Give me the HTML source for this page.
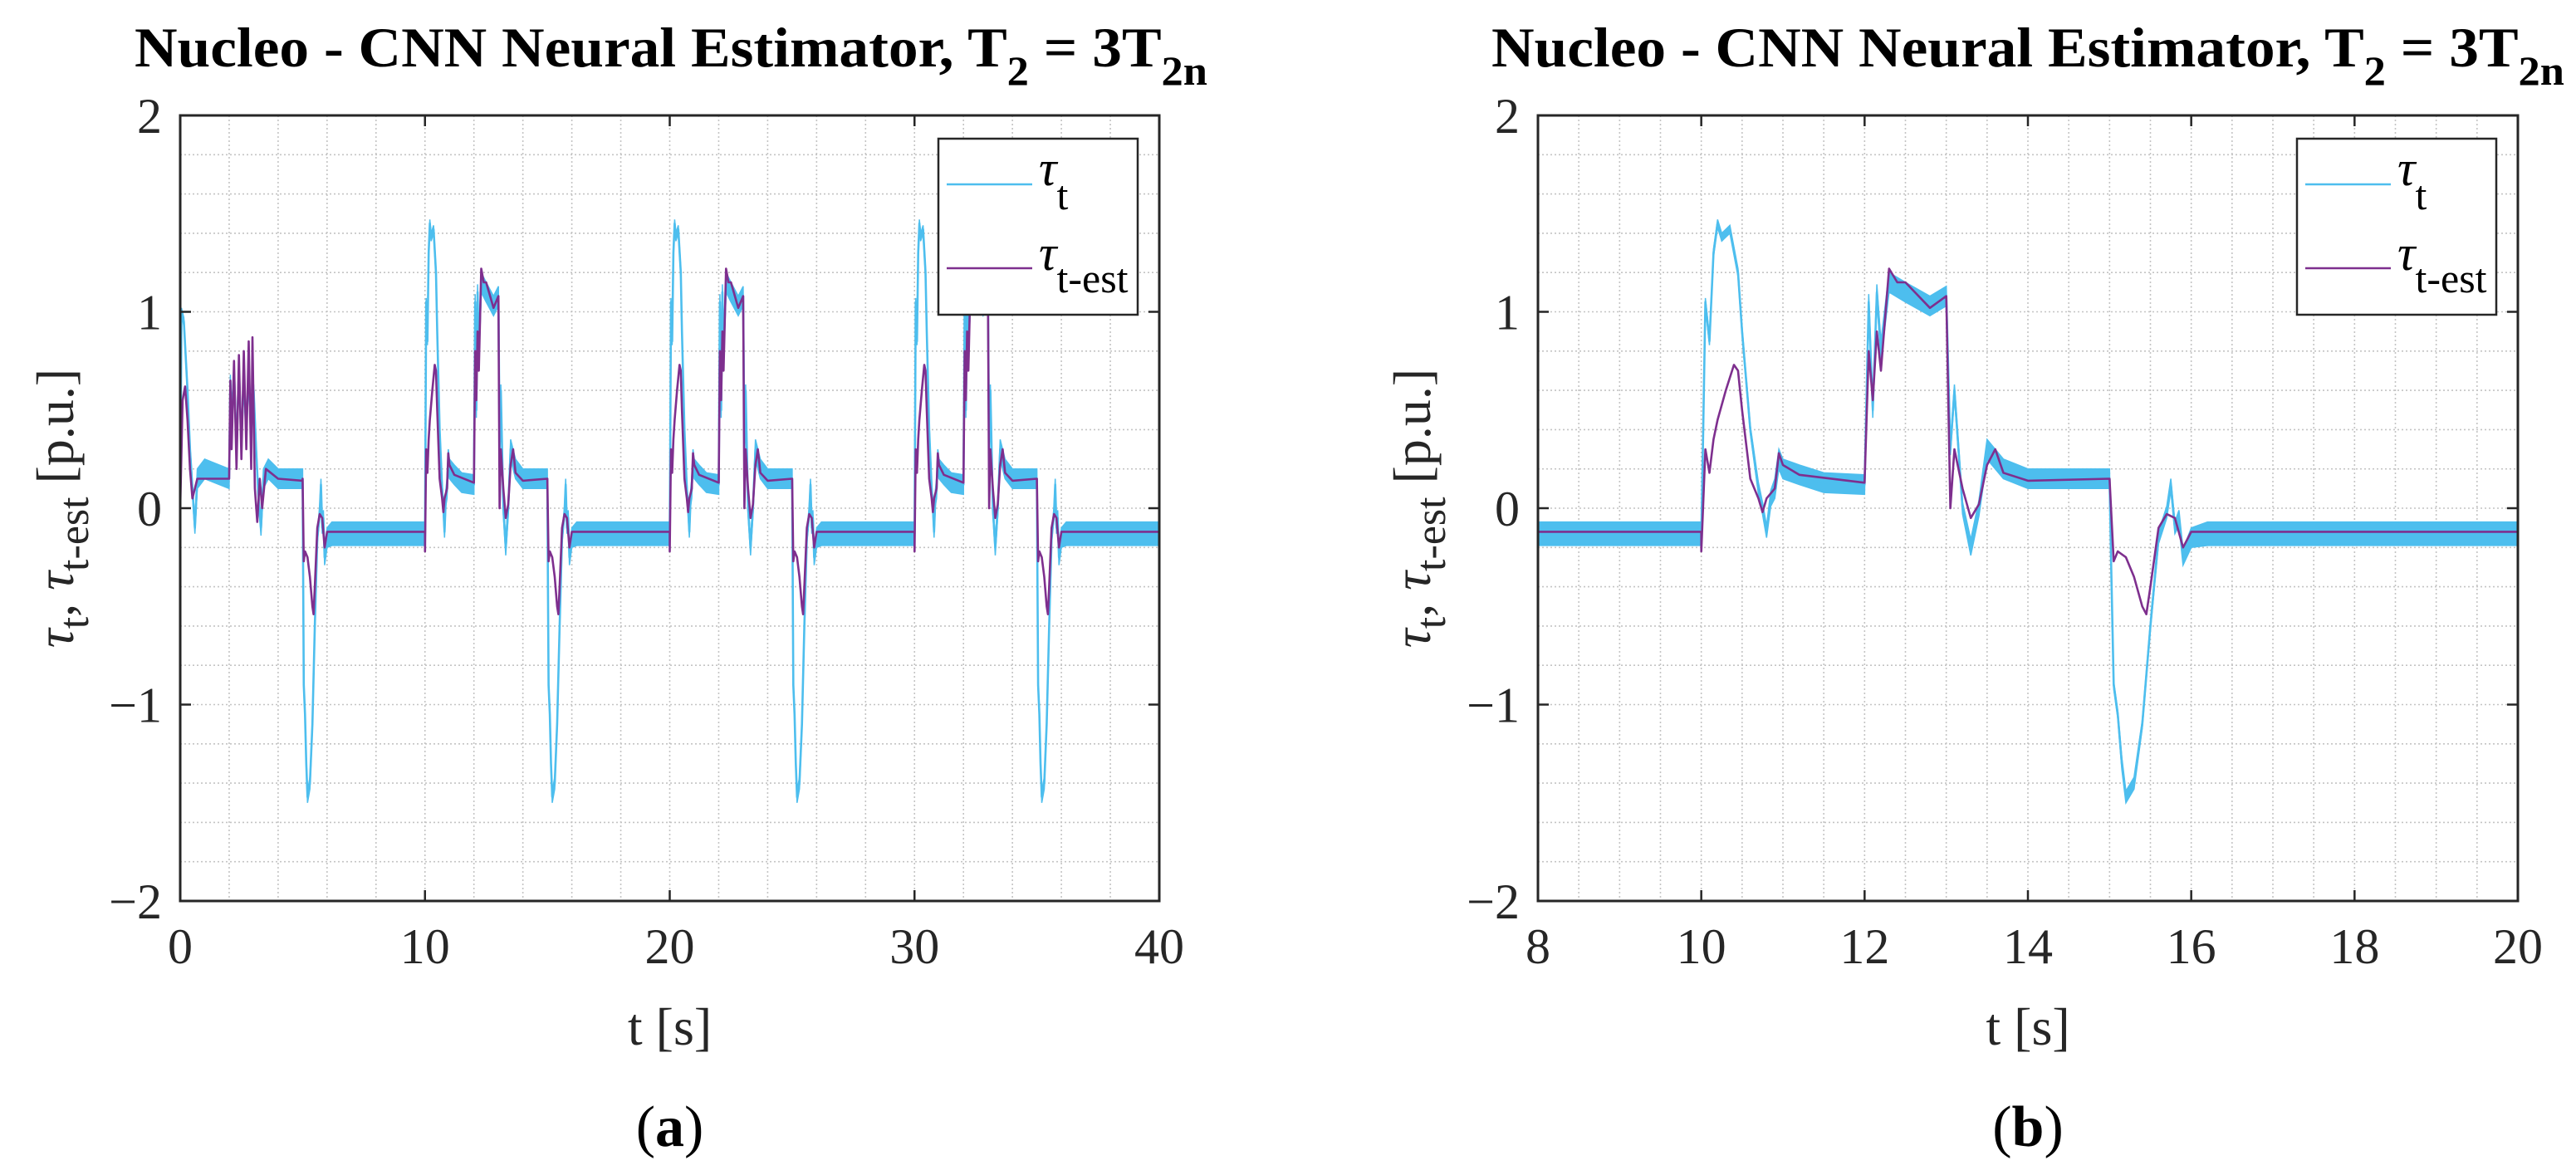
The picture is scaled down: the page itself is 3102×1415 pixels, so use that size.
<!DOCTYPE html>
<html><head><meta charset="utf-8"><style>
html,body{margin:0;padding:0;background:#fff;}
svg{display:block;font-family:"Liberation Serif",serif;}
</style></head><body>
<svg id="fig" xmlns="http://www.w3.org/2000/svg" width="3102" height="1415" viewBox="0 0 3102 1415"></svg>
<script>
// ---- data: one 10 s period (t from 10 to 20) ----
const periodT=[10.0,10.02,10.05,10.1,10.15,10.2,10.25,10.3,10.35,10.45,10.5,10.6,10.7,10.75,10.8,10.85,10.9,10.95,11.0,11.2,11.5,12.0,12.02,12.05,12.1,12.15,12.2,12.3,12.5,12.8,13.0,13.05,13.1,13.2,13.3,13.4,13.5,13.7,14.0,15.0,15.02,15.05,15.1,15.15,15.2,15.3,15.4,15.5,15.6,15.7,15.75,15.8,15.85,15.9,16.0,16.2,20.0];
const periodCyan=[-0.13,0.3,1.05,0.85,1.3,1.45,1.38,1.4,1.42,1.2,0.9,0.4,0.1,0.0,-0.12,0.05,0.1,0.25,0.2,0.17,0.13,0.12,0.5,1.05,0.5,1.1,0.8,1.15,1.1,1.03,1.08,0.3,0.6,0.0,-0.2,0.0,0.3,0.2,0.15,0.15,-0.3,-0.9,-1.05,-1.3,-1.47,-1.4,-1.1,-0.6,-0.15,-0.02,0.12,-0.1,-0.05,-0.25,-0.15,-0.13,-0.13];
const periodNoise=[0.05,0.02,0.02,0.02,0.02,0.02,0.02,0.02,0.02,0.02,0.02,0.02,0.03,0.03,0.03,0.04,0.05,0.05,0.05,0.05,0.05,0.05,0.03,0.04,0.04,0.04,0.05,0.05,0.05,0.05,0.05,0.03,0.03,0.03,0.04,0.04,0.05,0.05,0.05,0.05,0.02,0.02,0.02,0.03,0.03,0.03,0.02,0.02,0.03,0.03,0.03,0.03,0.04,0.04,0.05,0.06,0.06];
const periodTP=[10.0,10.05,10.1,10.15,10.2,10.3,10.4,10.45,10.5,10.6,10.7,10.75,10.8,10.9,10.95,11.0,11.2,12.0,12.05,12.1,12.15,12.2,12.3,12.4,12.5,12.8,13.0,13.05,13.1,13.2,13.3,13.4,13.5,13.6,13.7,14.0,15.0,15.05,15.1,15.2,15.3,15.4,15.45,15.5,15.6,15.7,15.8,15.9,16.0,20.0];
const periodPurple=[-0.22,0.3,0.18,0.35,0.45,0.6,0.73,0.7,0.5,0.15,0.05,-0.02,0.05,0.1,0.28,0.22,0.17,0.13,0.8,0.55,0.9,0.7,1.22,1.15,1.15,1.02,1.08,0.0,0.3,0.1,-0.05,0.02,0.22,0.3,0.18,0.14,0.15,-0.27,-0.22,-0.25,-0.35,-0.5,-0.54,-0.4,-0.1,-0.03,-0.05,-0.2,-0.12,-0.12];
// ---- data: start-up (t from 0 to 5) ----
const startT=[0,0.05,0.15,0.3,0.4,0.5,0.6,0.7,1.0,2.0,2.05,2.1,2.2,2.3,2.4,2.5,2.6,2.7,2.8,2.9,3.0,3.1,3.2,3.3,3.4,3.6,4.0,5.0];
const startCyan=[0,1.0,0.95,0.6,0.3,0.1,-0.1,0.15,0.2,0.15,0.65,0.45,0.7,0.3,0.7,0.35,0.65,0.4,0.7,0.4,0.6,0.3,0.05,-0.1,0.15,0.2,0.15,0.15];
const startNoise=[0.02,0.02,0.02,0.02,0.02,0.03,0.03,0.05,0.05,0.05,0.03,0.03,0.03,0.03,0.03,0.03,0.03,0.03,0.03,0.03,0.03,0.03,0.03,0.04,0.05,0.05,0.05,0.05];
const startTP=[0,0.1,0.2,0.3,0.4,0.5,0.7,2.0,2.05,2.1,2.2,2.3,2.4,2.5,2.6,2.7,2.8,2.9,2.95,3.05,3.15,3.25,3.35,3.5,4.0,5.0];
const startPurple=[0,0.55,0.62,0.45,0.2,0.05,0.15,0.15,0.65,0.3,0.75,0.2,0.78,0.25,0.8,0.3,0.85,0.2,0.87,0.1,-0.07,0.15,0.0,0.2,0.15,0.14];
const yTicks=[-2,-1,0,1,2];
const yTickLabels=["\u22122","\u22121","0","1","2"];
const xTicksA=[0,10,20,30,40];
const xTicksB=[8,10,12,14,16,18,20];

const NS="http://www.w3.org/2000/svg";
const svg=document.getElementById('fig');
function mk(tag,attrs,parent){const e=document.createElementNS(NS,tag);for(const k in attrs)e.setAttribute(k,attrs[k]);(parent||svg).appendChild(e);return e;}

function buildSeries(tA,vA,nA,sT,sV,sN,shifts,xmin,xmax,useStart){
  const pts=[];
  if(useStart){for(let i=0;i<sT.length;i++)pts.push([sT[i],sV[i],sN?sN[i]:0]);}
  shifts.forEach(s=>{for(let i=0;i<tA.length;i++){const t=tA[i]+s;if(useStart&&t<5)continue;pts.push([t,vA[i],nA?nA[i]:0]);}});
  pts.sort((a,b)=>a[0]-b[0]);
  return pts.filter(p=>p[0]>=xmin-5&&p[0]<=xmax+5);
}

function drawPlot(cfg){
  const {L,R,T,B,xmin,xmax,xTicks,xMinorStep,name,useStart,shifts,titleX,titleLen,ylabX,letter}=cfg;
  const g=mk('g',{});
  
  
  const X=t=>L+(t-xmin)/(xmax-xmin)*(R-L);
  const Y=v=>T+(2-v)/4*(B-T);
  const clipId='clip-'+name;
  const cp=mk('clipPath',{id:clipId},g);mk('rect',{x:L,y:T,width:R-L,height:B-T},cp);
  const grid=mk('g',{stroke:'#c4c4c4','stroke-width':1.6,'stroke-dasharray':'2 3'},g);
  
  
  for(let v=-2;v<=2.0001;v+=0.2){const y=Y(v);mk('line',{x1:L,x2:R,y1:y,y2:y},grid);}
  for(let t=xmin;t<=xmax+1e-6;t+=xMinorStep){const x=X(t);mk('line',{x1:x,x2:x,y1:T,y2:B},grid);}
  const sg=mk('g',{'clip-path':'url(#'+clipId+')'},g);
  const cy=buildSeries(periodT,periodCyan,periodNoise,startT,startCyan,startNoise,shifts,xmin,xmax,useStart);
  let up=cy.map(p=>X(p[0]).toFixed(1)+','+Y(p[1]+p[2]).toFixed(1));
  let lo=cy.slice().reverse().map(p=>X(p[0]).toFixed(1)+','+Y(p[1]-p[2]).toFixed(1));
  const band=mk('polygon',{points:up.concat(lo).join(' '),fill:'#4DBEEE',stroke:'#4DBEEE','stroke-width':1.5},sg);
  
  
  const cl=mk('polyline',{points:cy.map(p=>X(p[0]).toFixed(1)+','+Y(p[1]).toFixed(1)).join(' '),fill:'none',stroke:'#4DBEEE','stroke-width':2.6,'stroke-linejoin':'round'},sg);
  
  
  const pp=buildSeries(periodTP,periodPurple,null,startTP,startPurple,null,shifts,xmin,xmax,useStart);
  const pl=mk('polyline',{points:pp.map(p=>X(p[0]).toFixed(1)+','+Y(p[1]).toFixed(1)).join(' '),fill:'none',stroke:'#7E2F8E','stroke-width':2.6,'stroke-linejoin':'round'},sg);
  
  
  const ax=mk('rect',{x:L,y:T,width:R-L,height:B-T,fill:'none',stroke:'#262626','stroke-width':3},g);
  
  
  const tk=mk('g',{stroke:'#262626','stroke-width':2.5},g);
  yTicks.forEach((v,i)=>{const y=Y(v);mk('line',{x1:L,x2:L+13,y1:y,y2:y},tk);mk('line',{x1:R-13,x2:R,y1:y,y2:y},tk);
    const lb=mk('text',{x:L-22,y:y+21,'text-anchor':'end','font-size':60,fill:'#262626'},g);lb.textContent=yTickLabels[i];
    
    });
  xTicks.forEach(t=>{const x=X(t);mk('line',{x1:x,x2:x,y1:B,y2:B-13},tk);mk('line',{x1:x,x2:x,y1:T,y2:T+13},tk);
    const lb=mk('text',{x:x,y:1160,'text-anchor':'middle','font-size':60,fill:'#262626'},g);lb.textContent=String(t);
    
    });
  const ti=mk('text',{x:titleX,y:80,'font-size':68,'font-weight':'bold',fill:'#000',textLength:titleLen,lengthAdjust:'spacingAndGlyphs'},g);
  ti.innerHTML='Nucleo - CNN Neural Estimator, T<tspan dy="22" font-size="50">2</tspan><tspan dy="-22"> = 3T</tspan><tspan dy="22" font-size="50">2n</tspan>';
  
  
  const xl=mk('text',{x:(L+R)/2,y:1258,'text-anchor':'middle','font-size':64,fill:'#262626'},g);
  xl.textContent='t [s]';
  
  
  const yl=mk('text',{transform:'translate('+ylabX+','+(T+B)/2+') rotate(-90)','text-anchor':'middle','font-size':64,fill:'#262626'},g);
  yl.innerHTML='<tspan font-style="italic">\u03C4</tspan><tspan dy="18" font-size="52">t</tspan><tspan dy="-18">, </tspan><tspan font-style="italic">\u03C4</tspan><tspan dy="18" font-size="52">t-est</tspan><tspan dy="-18"> [p.u.]</tspan>';
  
  
  const lg=mk('g',{},g);
  
  
  const lx=R-266;
  mk('rect',{x:lx,y:167,width:240,height:212,fill:'#fff',stroke:'#262626','stroke-width':2.5},lg);
  const e1=mk('g',{},lg);
  
  
  mk('line',{x1:lx+10,x2:lx+113,y1:222,y2:222,stroke:'#4DBEEE','stroke-width':2.6},e1);
  const t1=mk('text',{x:lx+121,y:223,'font-size':60,fill:'#000'},e1);
  t1.innerHTML='<tspan font-style="italic">\u03C4</tspan><tspan dy="29" font-size="50">t</tspan>';
  const e2=mk('g',{},lg);
  
  
  mk('line',{x1:lx+10,x2:lx+113,y1:323,y2:323,stroke:'#7E2F8E','stroke-width':2.6},e2);
  const t2=mk('text',{x:lx+121,y:325,'font-size':60,fill:'#000'},e2);
  t2.innerHTML='<tspan font-style="italic">\u03C4</tspan><tspan dy="27" font-size="50">t-est</tspan>';
  const pl2=mk('text',{x:(L+R)/2,y:1380,'text-anchor':'middle','font-size':70,fill:'#000'},g);
  pl2.innerHTML='(<tspan font-weight="bold">'+letter+'</tspan>)';
  
  
}

drawPlot({L:217,R:1396,T:139,B:1085,xmin:0,xmax:40,xTicks:xTicksA,xMinorStep:2,name:'plot-a',useStart:true,shifts:[-10,0,10,20],titleX:162,titleLen:1292,ylabX:88,letter:'a'});
drawPlot({L:1852,R:3032,T:139,B:1085,xmin:8,xmax:20,xTicks:xTicksB,xMinorStep:0.5,name:'plot-b',useStart:false,shifts:[-10,0],titleX:1796,titleLen:1292,ylabX:1722,letter:'b'});
</script>
</body></html>
